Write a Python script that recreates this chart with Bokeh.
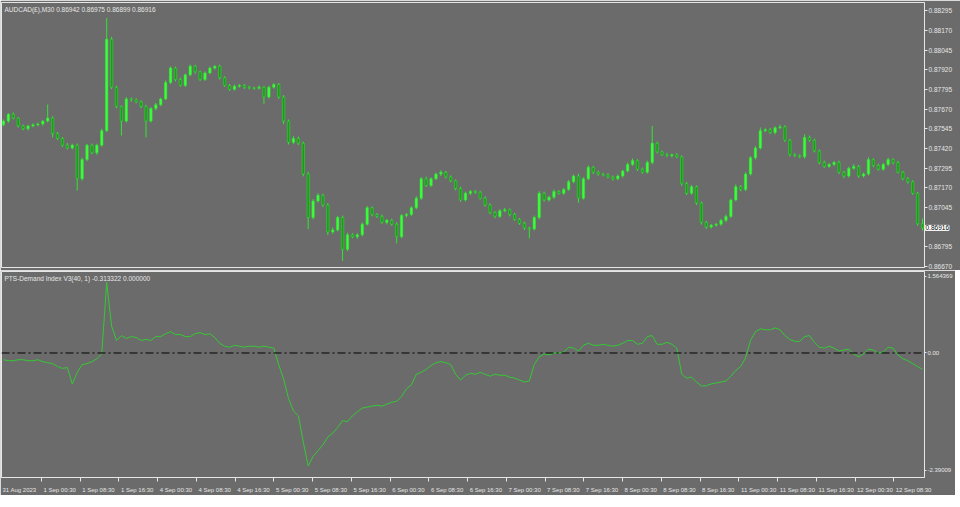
import numpy as np
from bokeh.plotting import figure
from bokeh.models import Range1d, FixedTicker, Label, Span, ColumnDataSource, PrintfTickFormatter
from bokeh.layouts import column
from bokeh.embed import file_html
from bokeh.resources import INLINE

symbol_title = "AUDCAD(£),M30  0.86942 0.86975 0.86899 0.86916"
indicator_title = "PTS-Demand Index V3(40, 1) -0.313322 0.000000"

first_open = 0.87571
closes = [
    0.87595, 0.87638, 0.87614, 0.87564, 0.87546, 0.87564, 0.87571, 0.87577, 0.87595, 0.87614,
    0.87516, 0.87485, 0.87442, 0.87424, 0.87442, 0.87228, 0.87350, 0.87442, 0.87393, 0.87442,
    0.87534, 0.88116, 0.87810, 0.87687, 0.87595, 0.87736, 0.87730, 0.87718, 0.87687, 0.87595,
    0.87675, 0.87699, 0.87736, 0.87840, 0.87932, 0.87859, 0.87822, 0.87889, 0.87944, 0.87908,
    0.87859, 0.87901, 0.87932, 0.87944, 0.87871, 0.87822, 0.87797, 0.87816, 0.87822, 0.87810,
    0.87806, 0.87803, 0.87810, 0.87748, 0.87810, 0.87828, 0.87748, 0.87595, 0.87460, 0.87485,
    0.87454, 0.87258, 0.86982, 0.87087, 0.87123, 0.87062, 0.86890, 0.86903, 0.86982, 0.86780,
    0.86872, 0.86860, 0.86872, 0.86939, 0.87044, 0.87001, 0.86989, 0.86951, 0.86964, 0.86939,
    0.86860, 0.86995, 0.87001, 0.87044, 0.87105, 0.87228, 0.87185, 0.87228, 0.87258, 0.87270,
    0.87240, 0.87215, 0.87166, 0.87093, 0.87136, 0.87148, 0.87142, 0.87105, 0.87062, 0.87013,
    0.86989, 0.87025, 0.87031, 0.87001, 0.86970, 0.86945, 0.86915, 0.86909, 0.86982, 0.87136,
    0.87093, 0.87111, 0.87148, 0.87136, 0.87160, 0.87209, 0.87246, 0.87105, 0.87228, 0.87301,
    0.87270, 0.87258, 0.87252, 0.87240, 0.87228, 0.87246, 0.87277, 0.87319, 0.87344, 0.87289,
    0.87270, 0.87332, 0.87454, 0.87399, 0.87381, 0.87375, 0.87381, 0.87368, 0.87197, 0.87136,
    0.87178, 0.87074, 0.86951, 0.86921, 0.86933, 0.86939, 0.86964, 0.86989, 0.87093, 0.87178,
    0.87160, 0.87258, 0.87362, 0.87424, 0.87534, 0.87540, 0.87522, 0.87552, 0.87558, 0.87473,
    0.87381, 0.87375, 0.87368, 0.87491, 0.87473, 0.87405, 0.87332, 0.87307, 0.87319, 0.87332,
    0.87270, 0.87246, 0.87295, 0.87307, 0.87246, 0.87258, 0.87350, 0.87313, 0.87289, 0.87319,
    0.87350, 0.87332, 0.87270, 0.87228, 0.87209, 0.87136, 0.86942, 0.86916,
]
# wick lengths above/below the candle body, in points (0.00001)
upper_wick_pts = [
    10, 8, 12, 6, 9, 7, 10, 8, 6, 86, 12, 10, 8, 14, 9, 10, 12, 8, 10, 9,
    12, 135, 15, 10, 8, 12, 9, 10, 8, 12, 9, 11, 8, 14, 10, 9, 12, 8, 10, 9,
    8, 10, 9, 6, 10, 8, 9, 11, 8, 9, 10, 8, 12, 9, 10, 8, 9, 12, 10, 14,
    12, 10, 15, 12, 14, 10, 12, 15, 10, 12, 14, 10, 9, 12, 10, 8, 10, 12, 9, 10,
    12, 8, 10, 9, 12, 10, 14, 9, 10, 12, 8, 10, 9, 12, 10, 8, 9, 10, 12, 9,
    10, 9, 12, 8, 10, 9, 11, 8, 12, 14, 10, 9, 12, 8, 10, 12, 9, 14, 10, 12,
    9, 10, 8, 12, 9, 10, 8, 12, 14, 9, 10, 12, 110, 10, 9, 12, 8, 10, 9, 12,
    10, 8, 9, 10, 8, 9, 10, 12, 9, 14, 10, 12, 10, 12, 20, 10, 12, 9, 14, 10,
    9, 10, 8, 20, 12, 10, 9, 12, 10, 9, 12, 8, 10, 14, 9, 10, 15, 9, 12, 10,
    12, 9, 10, 8, 12, 10, 9, 33,
]
lower_wick_pts = [
    9, 12, 8, 10, 9, 11, 8, 10, 12, 9, 25, 10, 12, 9, 10, 74, 12, 10, 9, 12,
    10, 8, 12, 10, 92, 9, 12, 10, 9, 104, 10, 12, 9, 8, 10, 12, 9, 10, 8, 12,
    10, 9, 8, 10, 12, 9, 10, 8, 9, 12, 10, 9, 8, 43, 10, 9, 12, 20, 14, 10,
    12, 15, 74, 12, 10, 14, 20, 12, 10, 74, 12, 10, 14, 10, 9, 12, 10, 9, 12, 10,
    43, 10, 12, 9, 10, 12, 9, 10, 8, 12, 10, 9, 12, 10, 9, 12, 10, 9, 12, 10,
    12, 9, 10, 12, 9, 10, 12, 60, 10, 12, 9, 10, 12, 9, 10, 8, 9, 30, 10, 9,
    12, 10, 9, 10, 12, 9, 10, 8, 9, 12, 10, 9, 12, 10, 9, 10, 12, 9, 14, 12,
    10, 12, 15, 12, 10, 9, 10, 12, 10, 9, 12, 10, 9, 12, 10, 9, 10, 12, 9, 10,
    12, 10, 9, 12, 10, 9, 12, 10, 9, 10, 12, 14, 10, 9, 12, 10, 9, 12, 10, 9,
    10, 12, 9, 10, 12, 10, 12, 17,
]
demand_index = [
    -0.130, -0.148, -0.148, -0.130, -0.130, -0.148, -0.148, -0.130, -0.167, -0.186,
    -0.204, -0.260, -0.297, -0.278, -0.594, -0.371, -0.223, -0.204, -0.167, -0.111,
    -0.019, 1.354, 0.519, 0.241, 0.334, 0.278, 0.315, 0.297, 0.241, 0.260,
    0.241, 0.315, 0.315, 0.371, 0.408, 0.353, 0.353, 0.315, 0.315, 0.371,
    0.390, 0.353, 0.371, 0.297, 0.186, 0.130, 0.111, 0.148, 0.130, 0.111,
    0.130, 0.130, 0.111, 0.130, 0.111, 0.093, -0.223, -0.501, -0.872, -1.113,
    -1.206, -1.707, -2.171, -1.985, -1.874, -1.763, -1.614, -1.540, -1.429, -1.299,
    -1.317, -1.206, -1.132, -1.058, -1.039, -1.020, -1.002, -1.020, -0.983, -0.946,
    -0.928, -0.835, -0.686, -0.612, -0.408, -0.371, -0.315, -0.241, -0.186, -0.167,
    -0.186, -0.223, -0.408, -0.519, -0.427, -0.390, -0.408, -0.371, -0.408, -0.445,
    -0.408, -0.427, -0.427, -0.464, -0.482, -0.519, -0.557, -0.538, -0.223, -0.074,
    -0.019, -0.037, 0.000, 0.000, 0.019, 0.111, 0.093, 0.037, 0.148, 0.186,
    0.148, 0.148, 0.167, 0.148, 0.130, 0.148, 0.186, 0.241, 0.241, 0.167,
    0.186, 0.315, 0.334, 0.167, 0.167, 0.204, 0.167, 0.093, -0.408, -0.482,
    -0.464, -0.557, -0.631, -0.631, -0.594, -0.575, -0.557, -0.538, -0.445, -0.334,
    -0.260, -0.093, 0.241, 0.408, 0.464, 0.445, 0.445, 0.482, 0.445, 0.334,
    0.260, 0.223, 0.223, 0.315, 0.334, 0.204, 0.111, 0.093, 0.130, 0.093,
    0.037, 0.056, 0.074, -0.019, -0.074, -0.019, 0.074, 0.056, 0.000, 0.019,
    0.111, 0.093, -0.037, -0.111, -0.148, -0.204, -0.260, -0.313,
]
price_ticks = [0.88295, 0.88170, 0.88045, 0.87920, 0.87795, 0.87670, 0.87545,
               0.87420, 0.87295, 0.87170, 0.87045, 0.86795, 0.86670]
current_price = 0.86916
price_low, price_high = 0.86664, 0.88349
di_max = 1.564369
di_min = -2.39009
di_labels = ["1.564369", "0.00", "-2.39009"]
time_labels = ["31 Aug 2023", "1 Sep 00:30", "1 Sep 08:30", "1 Sep 16:30", "4 Sep 00:30",
               "4 Sep 08:30", "4 Sep 16:30", "5 Sep 00:30", "5 Sep 08:30", "5 Sep 16:30",
               "6 Sep 00:30", "6 Sep 08:30", "6 Sep 16:30", "7 Sep 00:30", "7 Sep 08:30",
               "7 Sep 16:30", "8 Sep 00:30", "8 Sep 08:30", "8 Sep 16:30", "11 Sep 00:30",
               "11 Sep 08:30", "11 Sep 16:30", "12 Sep 00:30", "12 Sep 08:30"]

BG = "#6b6b6b"
FG = "#e6e6e6"
WICK = "#2fe82f"
BULL = "#3cff3c"
BEAR = "#1e9a1e"
LINE = "#35c935"
FONT = "Liberation Sans"
FS = "6.5px"
FS_T = "6px"

n = len(closes)
m = min(n, len(upper_wick_pts), len(lower_wick_pts))
xs = np.arange(m)
c = np.array(closes[:m])
o = np.array([first_open] + closes[:m - 1])
top = np.maximum(o, c)
bot = np.minimum(o, c)
hi = top + np.array(upper_wick_pts[:m]) / 1e5
lo = bot - np.array(lower_wick_pts[:m]) / 1e5

LEFT, RIGHT = 1, 28
FRAME_W = 923
H1, H2 = 265, 206
x_start, x_end = -0.4, n - 1 + 0.4
xpp = (x_end - x_start) / FRAME_W
ypp1 = (price_high - price_low) / H1
ypp2 = (di_max - di_min) / H2
xr = Range1d(x_start, x_end)

src = ColumnDataSource(dict(x=xs, high=hi, low=lo, top=top, bottom=bot,
                            fill=[BULL if cc >= oo else BEAR for oo, cc in zip(o, c)]))


def style(p):
    p.grid.visible = False
    p.background_fill_color = BG
    p.border_fill_color = BG
    p.outline_line_color = FG
    p.outline_line_width = 1


def style_y(ax, fs):
    ax.axis_line_color = None
    ax.major_tick_line_color = FG
    ax.major_tick_out = 3
    ax.major_tick_in = 0
    ax.minor_tick_line_color = None
    ax.major_label_text_color = FG
    ax.major_label_text_font = FONT
    ax.major_label_text_font_size = fs
    ax.major_label_standoff = 1


# ---------------- price panel
p1 = figure(frame_width=FRAME_W, frame_height=H1, x_range=xr,
            y_range=Range1d(price_low, price_high), output_backend="svg",
            toolbar_location=None, min_border_left=LEFT, min_border_right=RIGHT,
            min_border_top=2, min_border_bottom=3, x_axis_location=None,
            y_axis_location="right")
style(p1)
ya = p1.yaxis[0]
ya.ticker = FixedTicker(ticks=price_ticks)
ya.formatter = PrintfTickFormatter(format="%.5f")
style_y(ya, FS)

p1.segment(x0="x", y0="high", x1="x", y1="low", source=src, line_color=WICK, line_width=1)
p1.vbar(x="x", width=0.5, top="top", bottom="bottom", source=src,
        fill_color="fill", line_color=WICK, line_width=0.5)

p1.add_layout(Label(x=x_start + 3 * xpp, y=price_high - 3 * ypp1, text=symbol_title,
                    text_baseline="top", text_align="left", text_color=FG,
                    text_font=FONT, text_font_size=FS))
# current-price box drawn in the right-hand side panel (outside the frame clip)
p1.add_layout(Label(x=LEFT + FRAME_W + 1, x_units="canvas", y=current_price,
                    text="0.86916", text_baseline="middle", text_align="left",
                    text_color="black", text_font=FONT, text_font_size=FS,
                    background_fill_color="white", border_line_color="white"), "right")

# ---------------- indicator panel
p2 = figure(frame_width=FRAME_W, frame_height=H2, x_range=xr,
            y_range=Range1d(di_min, di_max), output_backend="svg",
            toolbar_location=None, min_border_left=LEFT, min_border_right=RIGHT,
            min_border_top=1, min_border_bottom=14, x_axis_location="below",
            y_axis_location="right")
style(p2)
top_tick = round(di_max - 5 * ypp2, 6)
bot_tick = round(di_min + 7 * ypp2, 6)
y2 = p2.yaxis[0]
y2.ticker = FixedTicker(ticks=[top_tick, 0.0, bot_tick])
y2.major_label_overrides = {top_tick: di_labels[0], 0.0: di_labels[1], bot_tick: di_labels[2]}
style_y(y2, "6px")
y2.major_tick_out = 2

p2.line(xs, demand_index[:m], line_color=LINE, line_width=1)
p2.add_layout(Span(location=0, dimension="width", line_color="black",
                   line_dash="8 3 2 3", line_width=1))
p2.add_layout(Label(x=x_start + 3 * xpp, y=di_max - 3 * ypp2, text=indicator_title,
                    text_baseline="top", text_align="left", text_color=FG,
                    text_font=FONT, text_font_size=FS))

# time axis: tick marks every 16 bars, label text to the right of each mark
CW = {" ": 0.278, ":": 0.278, "S": 0.667, "A": 0.667}


def text_w(s, size=6.0):
    return sum(CW.get(ch, 0.556) for ch in s) * size


def pos_ref(px):
    return x_start + (px - 1) / 934.0 * (x_end - x_start)


marks = [x_start] + [pos_ref(41.5 + 39.2 * k) for k in range(len(time_labels) - 1)]
centers = []
for i, lab in enumerate(time_labels):
    gap = 1 if i == 0 else 2
    centers.append(round(marks[i] + (gap + text_w(lab) / 2) * xpp, 4))
xa = p2.xaxis[0]
xa.ticker = FixedTicker(ticks=centers, minor_ticks=marks[1:])
xa.major_label_overrides = {cc: lab for cc, lab in zip(centers, time_labels)}
xa.axis_line_color = FG
xa.major_tick_line_color = None
xa.minor_tick_line_color = FG
xa.minor_tick_out = 4
xa.minor_tick_in = 0
xa.major_label_text_color = FG
xa.major_label_text_font = FONT
xa.major_label_text_font_size = FS_T
xa.major_label_standoff = 3

layout = column(p1, p2, spacing=0)
open("out.html", "w").write(file_html(layout, INLINE))
